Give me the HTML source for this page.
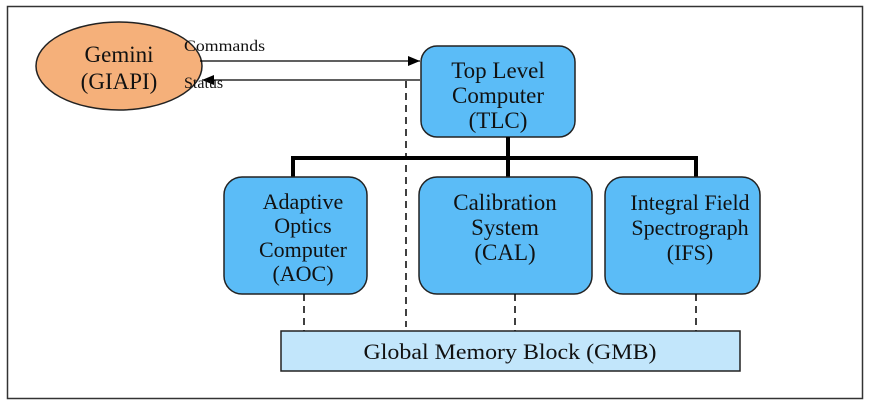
<!DOCTYPE html>
<html><head><style>
html,body{margin:0;padding:0;background:#fff;}
svg text{font-family:"Liberation Serif",serif;fill:#111;}
</style></head><body>
<svg width="872" height="409" viewBox="0 0 872 409" xmlns="http://www.w3.org/2000/svg">
<defs>
<marker id="ah" markerWidth="12" markerHeight="10" refX="12" refY="5" orient="auto" markerUnits="userSpaceOnUse">
<path d="M0,0 L12,5 L0,10 z" fill="#000"/></marker>
</defs>
<rect x="7.5" y="6.5" width="855" height="392" fill="#fff" stroke="#333" stroke-width="1.5"/>
<ellipse cx="119" cy="66" rx="83" ry="44" fill="#f5b07a" stroke="#222" stroke-width="1.5"/>
<text x="119" y="62" font-size="23" text-anchor="middle">Gemini</text>
<text x="119" y="89" font-size="23" text-anchor="middle">(GIAPI)</text>
<line x1="200" y1="61" x2="420" y2="61" stroke="#000" stroke-width="1.3" marker-end="url(#ah)"/>
<line x1="420" y1="80" x2="202" y2="80" stroke="#000" stroke-width="1.3" marker-end="url(#ah)"/>
<text x="184" y="51" font-size="16" textLength="81" lengthAdjust="spacingAndGlyphs">Commands</text>
<text x="184" y="88" font-size="16">Status</text>
<line x1="406" y1="81" x2="406" y2="327" stroke="#000" stroke-width="1.5" stroke-dasharray="7,5"/>
<rect x="421" y="46" width="154" height="91" rx="16" fill="#5bbcf7" stroke="#222" stroke-width="1.5"/>
<text x="498" y="78" font-size="23" text-anchor="middle">Top Level</text>
<text x="498" y="103" font-size="23" text-anchor="middle">Computer</text>
<text x="498" y="128" font-size="23" text-anchor="middle">(TLC)</text>
<line x1="508" y1="137" x2="508" y2="180" stroke="#000" stroke-width="4"/>
<line x1="293" y1="158" x2="697" y2="158" stroke="#000" stroke-width="4"/>
<line x1="293" y1="156" x2="293" y2="178" stroke="#000" stroke-width="4"/>
<line x1="696" y1="156" x2="696" y2="178" stroke="#000" stroke-width="4"/>
<rect x="224" y="177" width="143" height="117" rx="18" fill="#5bbcf7" stroke="#222" stroke-width="1.5"/>
<text x="303" y="209" font-size="22" text-anchor="middle">Adaptive</text>
<text x="303" y="233" font-size="22" text-anchor="middle">Optics</text>
<text x="303" y="257" font-size="22" text-anchor="middle">Computer</text>
<text x="303" y="281" font-size="22" text-anchor="middle">(AOC)</text>
<rect x="419" y="177" width="173" height="117" rx="18" fill="#5bbcf7" stroke="#222" stroke-width="1.5"/>
<text x="505" y="210" font-size="23" text-anchor="middle">Calibration</text>
<text x="505" y="235" font-size="23" text-anchor="middle">System</text>
<text x="505" y="260" font-size="23" text-anchor="middle">(CAL)</text>
<rect x="605" y="177" width="155" height="117" rx="18" fill="#5bbcf7" stroke="#222" stroke-width="1.5"/>
<text x="690" y="210" font-size="22" text-anchor="middle">Integral Field</text>
<text x="690" y="235" font-size="22" text-anchor="middle">Spectrograph</text>
<text x="690" y="260" font-size="22" text-anchor="middle">(IFS)</text>
<line x1="304" y1="294" x2="304" y2="331" stroke="#000" stroke-width="1.5" stroke-dasharray="7,5"/>
<line x1="515" y1="294" x2="515" y2="331" stroke="#000" stroke-width="1.5" stroke-dasharray="7,5"/>
<line x1="696" y1="294" x2="696" y2="331" stroke="#000" stroke-width="1.5" stroke-dasharray="7,5"/>
<rect x="281" y="331" width="459" height="40" fill="#c2e6fb" stroke="#222" stroke-width="1.5"/>
<text x="510" y="359" font-size="22" text-anchor="middle" textLength="293" lengthAdjust="spacingAndGlyphs">Global Memory Block (GMB)</text>
</svg>
</body></html>
